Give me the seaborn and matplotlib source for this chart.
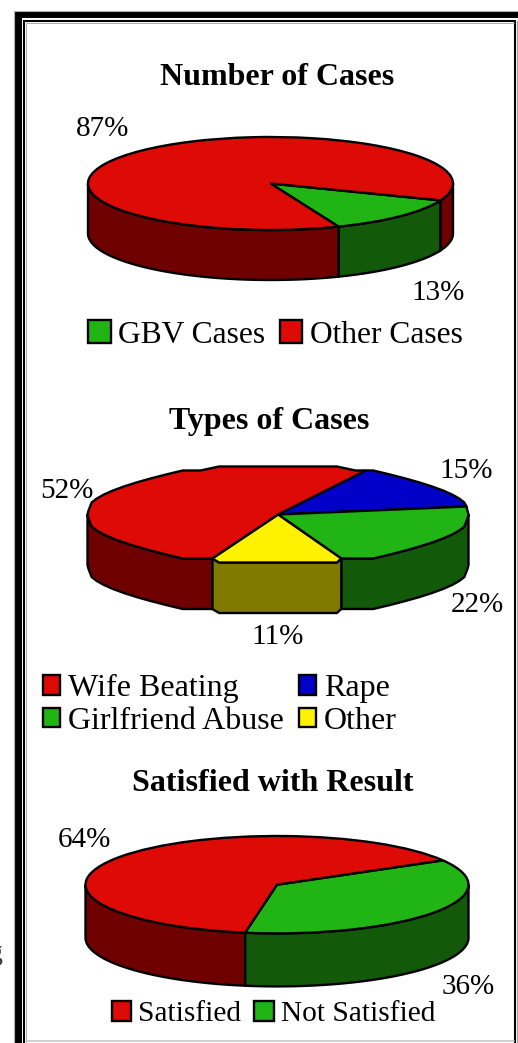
import numpy as np
import matplotlib
matplotlib.use("Agg")
import matplotlib.pyplot as plt
from matplotlib.patches import Patch
import seaborn as sns

W, H = 518, 1043

# chart data
case_labels = ["GBV Cases", "Other Cases"]
case_values = [13, 87]
type_labels = ["Rape", "Girlfriend Abuse", "Other", "Wife Beating"]
type_values = [15, 22, 11, 52]
result_labels = ["Not Satisfied", "Satisfied"]
result_values = [36, 64]

RED, DARK_RED = "#DE0A05", "#6E0000"
GREEN, DARK_GREEN = "#20B414", "#125A0A"
BLUE, DARK_BLUE = "#0000C8", "#000064"
YELLOW, OLIVE = "#FFF200", "#807A00"
LW = 1.7

sns.set_theme(style="white")
plt.rcParams["font.family"] = ["Liberation Serif", "DejaVu Serif"]


def arc(t1, t2, step, ry):
    # points along the rim, optionally coarse like the low-res middle pie
    if step is None:
        a = np.radians(np.linspace(t1, t2, max(int(abs(t2 - t1) * 2), 2) + 1))
        return np.cos(a), np.sin(a)
    a = np.r_[t1, np.arange(np.ceil(t1 / step), np.ceil(t2 / step)) * step, t2]
    q = 4.0 / ry
    return np.cos(np.radians(a)), np.round(np.sin(np.radians(a)) / q) * q


def pie3d(fig, values, colors, sides, start, box, step=None):
    cx, cy, rx, ry, depth = box
    ax = fig.add_axes([(cx - rx) / W, 1 - (cy + ry + depth) / H,
                       2 * rx / W, (2 * ry + depth) / H])
    wedges, _ = ax.pie(values, colors=colors, startangle=start, counterclock=False,
                       wedgeprops=dict(edgecolor="black", linewidth=LW))
    d = depth / ry
    for w, side in zip(wedges, sides):
        # the front half of the rim gets a wall
        for k in (-1, 0, 1):
            t1, t2 = max(w.theta1, -180 + 360 * k), min(w.theta2, 360 * k)
            if t2 <= t1:
                continue
            x, y = arc(t1, t2, step, ry)
            ax.fill(np.r_[x, x[::-1]], np.r_[y, y[::-1] - d], facecolor=side,
                    edgecolor="black", linewidth=LW, zorder=0, clip_on=False)
        if step is not None:
            x, y = arc(w.theta1, w.theta2, step, ry)
            ax.fill(np.r_[0, x], np.r_[0, y], facecolor=w.get_facecolor(),
                    edgecolor="black", linewidth=LW, zorder=2, clip_on=False)
            w.set_visible(False)
    ax.set_aspect("auto")
    ax.set_xlim(-1, 1)
    ax.set_ylim(-1 - d, 1)
    return wedges


fig = plt.figure(figsize=(W / 100, H / 100), dpi=100, facecolor="white")

bg = fig.add_axes([0, 0, 1, 1])
bg.set_xlim(0, W)
bg.set_ylim(H, 0)
bg.axis("off")

# double frame, open at the right and bottom of the crop
bg.plot([17.5, 17.5, W], [H, 14, 14], color="black", lw=5, solid_joinstyle="miter")
bg.plot([13.5, 13.5, W], [H, 10.5, 10.5], color="#b0b0b0", lw=0.8, solid_joinstyle="miter")
bg.plot([24, 24, 515, 515], [H, 21, 21, H], color="black", lw=1.5, solid_joinstyle="miter")
bg.plot([25.5, 25.5, 513.5], [H, 22.5, 22.5], color="#a0a0a0", lw=0.6)
bg.plot([516.5, 516.5], [21, H], color="#a0a0a0", lw=0.8)
bg.plot([26, 514], [1041, 1041], color="#c8c8c8", lw=1.2)
bg.text(3, 960, "g", fontsize=20, ha="right", va="baseline", color="#333333")

titles = [("Number of Cases", 277, 85), ("Types of Cases", 269.5, 429),
          ("Satisfied with Result", 273, 791)]
for t, x, y in titles:
    bg.text(x, y, t, fontsize=23, fontweight="bold", ha="center", va="baseline", color="black")

pie3d(fig, case_values, [GREEN, RED], [DARK_GREEN, DARK_RED], -21.3,
      (270.5, 183.5, 182.5, 46.5, 50))
pie3d(fig, type_values, [BLUE, GREEN, YELLOW, RED],
      [DARK_BLUE, DARK_GREEN, OLIVE, DARK_RED], 62.6,
      (278, 514.5, 190.5, 48.5, 50.5), step=6)
pie3d(fig, result_values, [GREEN, RED], [DARK_GREEN, DARK_RED], 30,
      (277, 884.7, 191.5, 48.7, 53))

# percent labels
for v, x, y in zip(case_values, [438, 102.7], [300, 136]):
    bg.text(x, y, f"{v}%", fontsize=21, ha="center", va="baseline", color="black")
for v, x, y in zip(type_values, [465.7, 477.7, 278, 66.7], [478, 611.7, 644, 497.7]):
    bg.text(x, y, f"{v}%", fontsize=21, ha="center", va="baseline", color="black")
for v, x, y in zip(result_values, [468.3, 84.3], [994, 846.7]):
    bg.text(x, y, f"{v}%", fontsize=21, ha="center", va="baseline", color="black")


def add_legend(colors, labels, center, ncol, size, handle=0.7):
    handles = [Patch(facecolor=c, edgecolor="black", linewidth=LW) for c in colors]
    fig.legend(handles, labels, loc="center", bbox_to_anchor=(center[0] / W, 1 - center[1] / H),
               ncol=ncol, frameon=False, fontsize=size, borderpad=0, borderaxespad=0,
               handlelength=handle, handleheight=handle, handletextpad=0.25,
               columnspacing=0.45, labelspacing=0.1, labelcolor="black")


add_legend([GREEN, RED], case_labels, (275.5, 335), 2, 22.7)
add_legend([RED, GREEN, BLUE, YELLOW],
           [type_labels[3], type_labels[1], type_labels[0], type_labels[2]],
           (220, 705), 2, 23, handle=0.55)
add_legend([RED, GREEN], [result_labels[1], result_labels[0]], (273.5, 1014), 2, 21.2, handle=0.65)

fig.savefig("out.png", dpi=100, facecolor="white")
